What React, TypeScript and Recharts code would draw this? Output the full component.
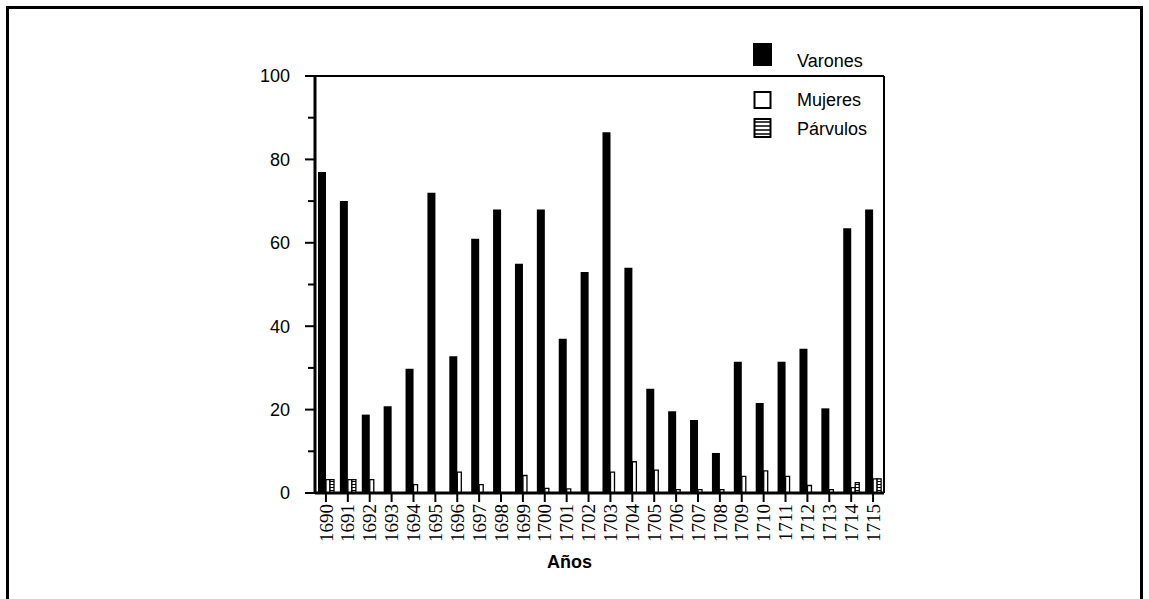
import React from 'react'
import { BarChart, Bar, XAxis, YAxis, Legend } from 'recharts'

const years = [
  '1690', '1691', '1692', '1693', '1694', '1695', '1696', '1697', '1698', '1699', '1700', '1701', '1702',
  '1703', '1704', '1705', '1706', '1707', '1708', '1709', '1710', '1711', '1712', '1713', '1714', '1715',
]
const varones = [
  77, 70, 18.8, 20.8, 29.8, 72, 32.8, 61, 68, 55, 68, 37, 53,
  86.5, 54, 25, 19.6, 17.5, 9.6, 31.5, 21.6, 31.5, 34.6, 20.3, 63.5, 68,
]
const mujeres = [
  3.2, 3.2, 3.2, 0, 2, 0, 5, 2, 0, 4.2, 1.1, 1, 0,
  5, 7.5, 5.5, 0.8, 0.8, 0.8, 4, 5.3, 4, 1.8, 0.8, 1.3, 3.4,
]
const parvulos = [
  3.2, 3.2, 0, 0, 0, 0, 0, 0, 0, 0, 0, 0, 0,
  0, 0, 0, 0, 0, 0, 0, 0, 0, 0, 0, 2.5, 3.4,
]
const yTicks = [0, 10, 20, 30, 40, 50, 60, 70, 80, 90, 100]

const data = years.map((year, i) => ({
  year,
  Varones: varones[i],
  Mujeres: mujeres[i],
  Parvulos: parvulos[i],
}))

const sans = '"Liberation Sans", Arial, sans-serif'
const serif = '"Times New Roman", "Liberation Serif", serif'

function YTick({ x, y, payload }: any) {
  const major = payload.value % 20 === 0
  return (
    <g>
      <line x1={x - (major ? 10 : 7)} x2={x} y1={y} y2={y} stroke="#000" strokeWidth={2} />
      {major && (
        <text x={x - 25} y={y} dy="0.35em" textAnchor="end" style={{ fontFamily: sans, fontSize: 18 }} fill="#000">
          {payload.value}
        </text>
      )}
    </g>
  )
}

function XTick({ x, y, payload }: any) {
  return (
    <text
      x={x}
      y={y}
      dy="0.35em"
      textAnchor="end"
      transform={`rotate(-90, ${x}, ${y})`}
      fontFamily={serif}
      style={{ fontFamily: serif, fontSize: 19 }}
      fill="#000"
    >
      {payload.value}
    </text>
  )
}

function LegendBox() {
  return (
    <svg width={150} height={110} style={{ overflow: 'visible' }}>
      <defs>
        <pattern id="hatchLegend" width={6} height={4} patternUnits="userSpaceOnUse">
          <rect width={6} height={4} fill="#fff" />
          <line x1={0} x2={6} y1={2} y2={2} stroke="#000" strokeWidth={1.5} />
        </pattern>
      </defs>
      <rect x={1} y={3} width={19} height={23} fill="#000" />
      <text x={45} y={27} style={{ fontFamily: sans, fontSize: 18 }} fill="#000">Varones</text>
      <rect x={2.5} y={52} width={16} height={16} fill="#fff" stroke="#000" strokeWidth={2} />
      <text x={45} y={66} style={{ fontFamily: sans, fontSize: 18 }} fill="#000">Mujeres</text>
      <rect x={2.5} y={79} width={16} height={18} fill="url(#hatchLegend)" stroke="#000" strokeWidth={2} />
      <text x={45} y={95} style={{ fontFamily: sans, fontSize: 18 }} fill="#000">Párvulos</text>
    </svg>
  )
}

export default function App() {
  return (
    <div style={{ position: 'absolute', left: 0, top: 0, width: 1149, height: 599, background: '#fff', overflow: 'hidden' }}>
      <div
        style={{
          position: 'absolute',
          left: 6,
          top: 6,
          width: 1131,
          height: 700,
          border: '3px solid #000',
        }}
      />
      <BarChart
        width={1149}
        height={599}
        data={data}
        margin={{ top: 75, right: 264, left: 255, bottom: 26 }}
        barGap={0}
        style={{ position: 'absolute', left: 0, top: 0 }}
      >
        <defs>
          <pattern id="hatch" width={4} height={3} patternUnits="userSpaceOnUse">
            <rect width={4} height={3} fill="#fff" />
            <line x1={0} x2={4} y1={1.5} y2={1.5} stroke="#000" strokeWidth={1} />
          </pattern>
        </defs>
        <XAxis
          dataKey="year"
          interval={0}
          height={80}
          axisLine={{ stroke: '#000', strokeWidth: 3 }}
          tickLine={{ stroke: '#000', strokeWidth: 2 }}
          tickSize={9}
          tickMargin={2}
          tick={<XTick />}
          label={{
            value: 'Años',
            position: 'insideBottom',
            offset: 5,
            dx: -30,
            style: { fontFamily: sans, fontSize: 18, fontWeight: 'bold' },
            fill: '#000',
          }}
        />
        <XAxis
          xAxisId="top"
          dataKey="year"
          orientation="top"
          height={1}
          tick={false}
          tickLine={false}
          axisLine={{ stroke: '#000', strokeWidth: 2 }}
        />
        <YAxis
          domain={[0, 100]}
          ticks={yTicks}
          interval={0}
          width={60}
          axisLine={{ stroke: '#000', strokeWidth: 3 }}
          tickLine={false}
          tickSize={0}
          tickMargin={0}
          tick={<YTick />}
        />
        <YAxis
          yAxisId="right"
          orientation="right"
          domain={[0, 100]}
          width={1}
          tick={false}
          tickLine={false}
          axisLine={{ stroke: '#000', strokeWidth: 2 }}
        />
        <Legend
          layout="vertical"
          align="center"
          verticalAlign="middle"
          content={() => <LegendBox />}
          wrapperStyle={{ position: 'absolute', left: 752, top: 40, width: 150, height: 110 }}
        />
        <Bar dataKey="Varones" barSize={8} fill="#000" isAnimationActive={false} />
        <Bar dataKey="Mujeres" barSize={4} fill="#fff" stroke="#000" strokeWidth={1.3} isAnimationActive={false} />
        <Bar dataKey="Parvulos" name="Párvulos" barSize={4} fill="url(#hatch)" stroke="#000" strokeWidth={1.3} isAnimationActive={false} />
      </BarChart>
    </div>
  )
}
